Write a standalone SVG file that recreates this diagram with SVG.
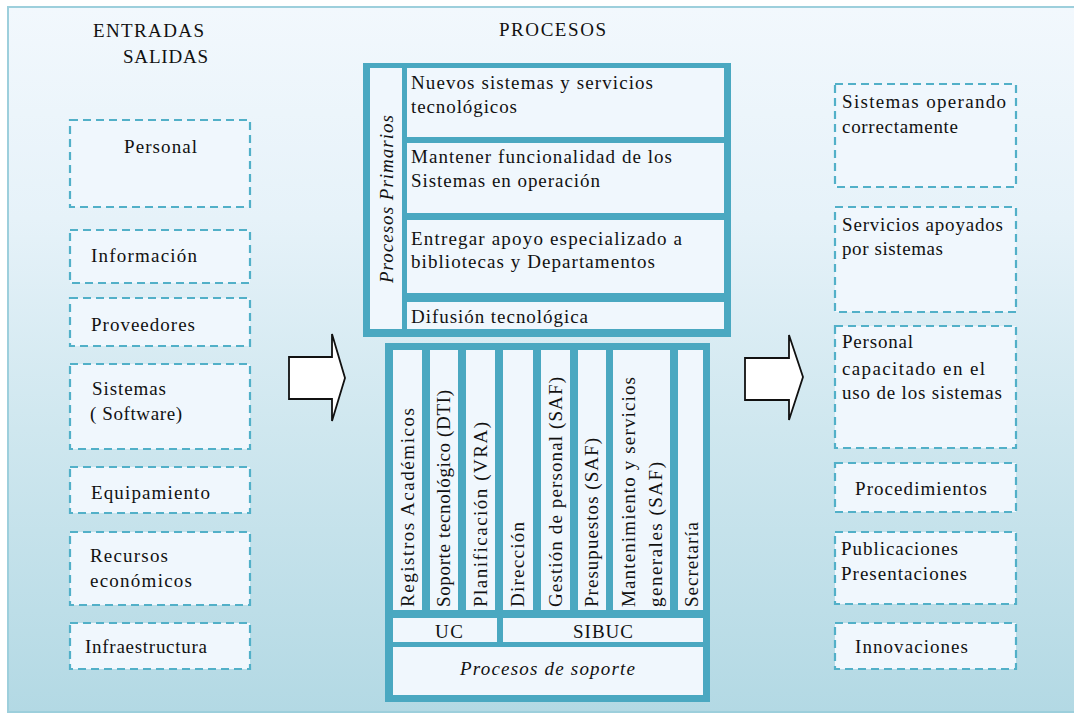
<svg xmlns="http://www.w3.org/2000/svg" width="1074" height="713" viewBox="0 0 1074 713">
<defs>
<linearGradient id="bg" x1="0" y1="0" x2="0" y2="1">
<stop offset="0" stop-color="#f2f8fd"/>
<stop offset="0.3" stop-color="#e6f2f9"/>
<stop offset="0.6" stop-color="#cfe7ef"/>
<stop offset="1" stop-color="#b3d9e4"/>
</linearGradient>
<style>
.t{font-family:"Liberation Serif","Times New Roman",serif;font-size:19px;fill:#111;}
.i{font-style:italic;}
.box{fill:#f0f7fd;stroke:#52b0c8;stroke-width:2.2;stroke-dasharray:8 5;}
.teal{fill:#4aa8c1;}
.cell{fill:#f0f7fd;}
.arrow{fill:#ffffff;stroke:#111;stroke-width:1.8;stroke-linejoin:miter;}
</style>
</defs>
<rect x="0" y="0" width="1074" height="713" fill="#ffffff"/>
<rect x="8" y="7" width="1080" height="705" fill="url(#bg)" stroke="#9dcfdc" stroke-width="2"/>

<g id="headers">
<text class="t" x="93" y="37" textLength="111">ENTRADAS</text>
<text class="t" x="123" y="63" textLength="85">SALIDAS</text>
<text class="t" x="499" y="36" textLength="107">PROCESOS</text>
</g>

<g id="in-personal"><rect class="box" x="70" y="120" width="180" height="87"/><text class="t" x="124" y="153" textLength="73">Personal</text></g>
<g id="in-informacion"><rect class="box" x="70" y="230" width="180" height="53"/><text class="t" x="91" y="262" textLength="106">Información</text></g>
<g id="in-proveedores"><rect class="box" x="70" y="298" width="180" height="48"/><text class="t" x="91" y="331" textLength="104">Proveedores</text></g>
<g id="in-sistemas"><rect class="box" x="70" y="364" width="180" height="85"/><text class="t" x="92" y="395" textLength="74">Sistemas</text><text class="t" x="90" y="420" textLength="92">( Software)</text></g>
<g id="in-equipamiento"><rect class="box" x="70" y="467" width="180" height="46"/><text class="t" x="91" y="499" textLength="119">Equipamiento</text></g>
<g id="in-recursos"><rect class="box" x="70" y="532" width="180" height="73"/><text class="t" x="90" y="562" textLength="78">Recursos</text><text class="t" x="90" y="587" textLength="102">económicos</text></g>
<g id="in-infraestructura"><rect class="box" x="70" y="623" width="180" height="46"/><text class="t" x="85" y="653" textLength="122">Infraestructura</text></g>

<g id="procesos-primarios">
<rect class="teal" x="363" y="63" width="368" height="274"/>
<rect class="cell" x="370" y="68" width="32" height="261"/>
<rect class="cell" x="407" y="68" width="317" height="69"/>
<rect class="cell" x="407" y="143" width="317" height="70"/>
<rect class="cell" x="407" y="220" width="317" height="73"/>
<rect class="cell" x="407" y="302" width="317" height="27"/>
<text class="t i" transform="translate(393,283) rotate(-90)" textLength="168">Procesos Primarios</text>
<text class="t" x="411" y="89" textLength="242">Nuevos sistemas  y servicios</text>
<text class="t" x="411" y="113" textLength="106">tecnológicos</text>
<text class="t" x="411" y="163" textLength="261">Mantener funcionalidad de los</text>
<text class="t" x="411" y="187" textLength="189">Sistemas en operación</text>
<text class="t" x="411" y="245" textLength="271">Entregar apoyo especializado  a</text>
<text class="t" x="411" y="268" textLength="244">bibliotecas y Departamentos</text>
<text class="t" x="411" y="323" textLength="177">Difusión tecnológica</text>
</g>

<g id="procesos-soporte">
<rect class="teal" x="385" y="343" width="325" height="359"/>
<rect class="cell" x="393" y="350" width="29" height="260"/>
<rect class="cell" x="430" y="350" width="28" height="260"/>
<rect class="cell" x="466" y="350" width="29" height="260"/>
<rect class="cell" x="503" y="350" width="30" height="260"/>
<rect class="cell" x="541" y="350" width="29" height="260"/>
<rect class="cell" x="578" y="350" width="28" height="260"/>
<rect class="cell" x="613" y="350" width="57" height="260"/>
<rect class="cell" x="678" y="350" width="25" height="260"/>
<rect class="cell" x="393" y="618" width="104" height="24"/>
<rect class="cell" x="503" y="618" width="200" height="24"/>
<rect class="cell" x="393" y="647" width="310" height="48"/>
<text class="t" transform="translate(414,607) rotate(-90)" textLength="199">Registros  Académicos</text>
<text class="t" transform="translate(450,607) rotate(-90)" textLength="217">Soporte tecnológico (DTI)</text>
<text class="t" transform="translate(487,607) rotate(-90)" textLength="185">Planificación  (VRA)</text>
<text class="t" transform="translate(524,607) rotate(-90)" textLength="85">Dirección</text>
<text class="t" transform="translate(562,607) rotate(-90)" textLength="230">Gestión de personal (SAF)</text>
<text class="t" transform="translate(598,607) rotate(-90)" textLength="169">Presupuestos (SAF)</text>
<text class="t" transform="translate(635,607) rotate(-90)" textLength="230">Mantenimiento y servicios</text>
<text class="t" transform="translate(662,607) rotate(-90)" textLength="145">generales  (SAF)</text>
<text class="t" transform="translate(698,607) rotate(-90)" textLength="85">Secretaría</text>
<text class="t" x="435" y="638" textLength="28">UC</text>
<text class="t" x="573" y="638" textLength="60">SIBUC</text>
<text class="t i" x="460" y="675" textLength="175">Procesos de soporte</text>
</g>

<g id="connectors">
<path class="arrow" d="M289,357 H332 V334 L345,378 L332,421 V399 H289 Z"/>
<path class="arrow" d="M745,358 H789 V335 L803,377 L789,420 V400 H745 Z"/>
</g>

<g id="out-sistemas"><rect class="box" x="835" y="84" width="181" height="103"/><text class="t" x="842" y="108" textLength="164">Sistemas  operando</text><text class="t" x="842" y="133" textLength="116">correctamente</text></g>
<g id="out-servicios"><rect class="box" x="835" y="207" width="181" height="105"/><text class="t" x="842" y="231" textLength="161">Servicios apoyados</text><text class="t" x="842" y="255" textLength="101">por sistemas</text></g>
<g id="out-personal"><rect class="box" x="835" y="326" width="181" height="122"/><text class="t" x="842" y="348" textLength="71">Personal</text><text class="t" x="842" y="375" textLength="143">capacitado en  el</text><text class="t" x="842" y="399" textLength="160">uso de los sistemas</text></g>
<g id="out-procedimientos"><rect class="box" x="835" y="463" width="181" height="49"/><text class="t" x="855" y="495" textLength="132">Procedimientos</text></g>
<g id="out-publicaciones"><rect class="box" x="835" y="532" width="181" height="72"/><text class="t" x="841" y="555" textLength="117">Publicaciones</text><text class="t" x="841" y="580" textLength="126">Presentaciones</text></g>
<g id="out-innovaciones"><rect class="box" x="835" y="623" width="181" height="46"/><text class="t" x="855" y="653" textLength="113">Innovaciones</text></g>
</svg>
